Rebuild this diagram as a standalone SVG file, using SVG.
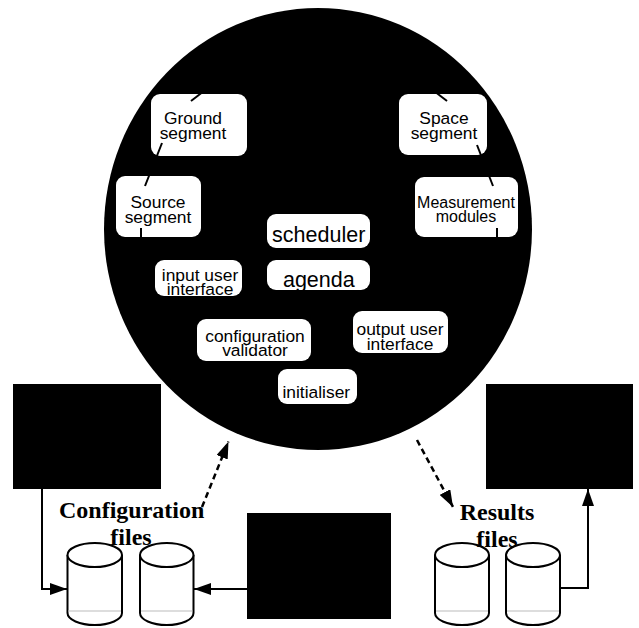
<svg xmlns="http://www.w3.org/2000/svg" width="639" height="628" viewBox="0 0 639 628">
<style>
.node rect.box{fill:#fff;stroke:none}
.t{font-family:"Liberation Sans",Arial,sans-serif;font-size:17.4px;text-anchor:middle;fill:#000}
.big{font-size:21.5px}
.lbl{font-family:"Liberation Serif","Times New Roman",serif;font-size:24px;font-weight:bold;text-anchor:middle;fill:#000}
.blk{fill:#000}
.cyl path,.cyl ellipse{fill:#fff;stroke:#000;stroke-width:2}
.cyl line{stroke:#bbb;stroke-width:1}
.ln{fill:none;stroke:#000;stroke-width:2}
.dash{fill:none;stroke:#000;stroke-width:2.5;stroke-dasharray:6 4}
</style>
<defs>
<marker id="ah" viewBox="0 0 17 12" refX="17" refY="6" markerWidth="17" markerHeight="12" markerUnits="userSpaceOnUse" orient="auto">
<path d="M0,0 L17,6 L0,12 z" fill="#000"/>
</marker>
</defs>
<rect width="639" height="628" fill="#fff"/>
<g id="system">
<ellipse cx="318" cy="229" rx="214" ry="221" class="blk"/>
</g>
<g id="ground-segment" class="node"><rect class="box" x="151" y="94" width="96" height="62" rx="9"/><text class="t" x="193" y="124.3">Ground</text><text class="t" x="193" y="139.3">segment</text></g>
<g id="source-segment" class="node"><rect class="box" x="116" y="176" width="85" height="61" rx="9"/><text class="t" x="158" y="208.3">Source</text><text class="t" x="158" y="222.7">segment</text></g>
<g id="space-segment" class="node"><rect class="box" x="399" y="94" width="88" height="61" rx="9"/><text class="t" x="444" y="124">Space</text><text class="t" x="444" y="139.3">segment</text></g>
<g id="measurement-modules" class="node"><rect class="box" x="415" y="177" width="103" height="60" rx="9"/><text class="t" x="466" y="208.3" style="font-size:16px">Measurement</text><text class="t" x="466" y="221.7" style="font-size:16px">modules</text></g>
<g id="scheduler" class="node"><rect class="box" x="267" y="214" width="103" height="34" rx="9"/><text class="t big" x="318.7" y="241.7">scheduler</text></g>
<g id="agenda" class="node"><rect class="box" x="267" y="260" width="103" height="30" rx="9"/><text class="t big" x="318.8" y="286.7">agenda</text></g>
<g id="input-user-interface" class="node"><rect class="box" x="155" y="260" width="87" height="36" rx="9"/><text class="t" x="200" y="280.7">input user</text><text class="t" x="200" y="295">interface</text></g>
<g id="configuration-validator" class="node"><rect class="box" x="197" y="319" width="114" height="42" rx="9"/><text class="t" x="255" y="341.7">configuration</text><text class="t" x="255" y="356">validator</text></g>
<g id="output-user-interface" class="node"><rect class="box" x="353" y="311" width="95" height="42" rx="9"/><text class="t" x="400" y="335">output user</text><text class="t" x="400" y="350">interface</text></g>
<g id="initialiser" class="node"><rect class="box" x="278" y="369" width="79" height="35" rx="9"/><text class="t" x="316.3" y="398.3">initialiser</text></g>
<g id="config-tool" class="node"><rect x="13" y="384" width="148" height="105" class="blk"/></g>
<g id="editor-tool" class="node"><rect x="247" y="513" width="144" height="106" class="blk"/></g>
<g id="results-tool" class="node"><rect x="486" y="384" width="147" height="105" class="blk"/></g>
<g id="config-file-1" class="cyl"><path d="M67.5,555 V613 A27.25,12 0 0 0 122,613 V555"/><line x1="68" y1="611" x2="121" y2="611"/><ellipse cx="94.75" cy="555" rx="27.25" ry="12"/></g>
<g id="config-file-2" class="cyl"><path d="M140,555 V613 A26.75,12 0 0 0 193.5,613 V555"/><line x1="141" y1="611" x2="192.5" y2="611"/><ellipse cx="166.75" cy="555" rx="26.75" ry="12"/></g>
<g id="results-file-1" class="cyl"><path d="M435,555 V613 A27,12 0 0 0 489,613 V555"/><line x1="436" y1="611" x2="488" y2="611"/><ellipse cx="462" cy="555" rx="27" ry="12"/></g>
<g id="results-file-2" class="cyl"><path d="M506,555 V613 A27,12 0 0 0 560,613 V555"/><line x1="507" y1="611" x2="559" y2="611"/><ellipse cx="533" cy="555" rx="27" ry="12"/></g>
<g id="connectors">
<line class="ln" x1="191" y1="101" x2="230" y2="71"/>
<line class="ln" x1="162" y1="143" x2="145" y2="186"/>
<line class="ln" x1="141" y1="228" x2="141" y2="250"/>
<line class="ln" x1="447" y1="101" x2="408" y2="71"/>
<line class="ln" x1="477" y1="145" x2="493" y2="186"/>
<line class="ln" x1="497" y1="228" x2="497" y2="250"/>
<path class="ln" d="M42,489 V589 H67" marker-end="url(#ah)"/>
<path class="ln" d="M247,589 H194" marker-end="url(#ah)"/>
<path class="ln" d="M561,588 H588 V489" marker-end="url(#ah)"/>
<path class="dash" d="M202,507 L228.5,441.5" marker-end="url(#ah)"/>
<path class="dash" d="M417,440 L453,507" marker-end="url(#ah)"/>
</g>
<g id="labels">
<text class="lbl" x="131.7" y="518">Configuration</text>
<text class="lbl" x="131" y="545">files</text>
<text class="lbl" x="497" y="520">Results</text>
<text class="lbl" x="497" y="547">files</text>
</g>
</svg>
